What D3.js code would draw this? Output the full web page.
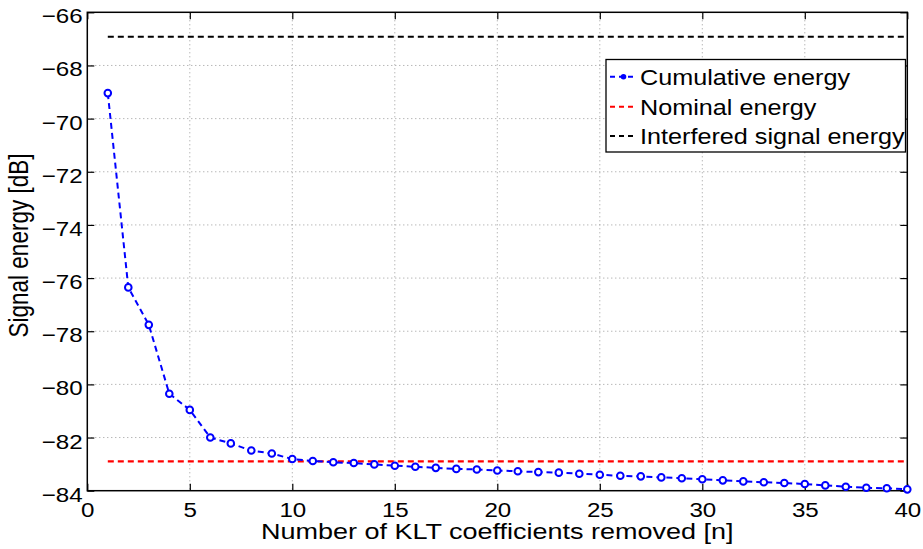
<!DOCTYPE html>
<html><head><meta charset="utf-8">
<script src="https://cdn.jsdelivr.net/npm/d3@7"></script>
<style>body{margin:0;background:#fff}svg{display:block}text{font-family:"Liberation Sans",Arial,sans-serif;fill:#000}</style>
</head><body><svg id="c" width="923" height="549"></svg>
<script>
const coeffs = d3.range(1, 41);
const cumulativeEnergy = [-69.04,-76.35,-77.76,-80.35,-80.96,-82.00,-82.22,-82.49,-82.60,-82.81,
  -82.88,-82.93,-82.96,-83.01,-83.06,-83.10,-83.14,-83.18,-83.20,-83.24,
  -83.27,-83.30,-83.32,-83.36,-83.40,-83.44,-83.46,-83.50,-83.53,-83.57,
  -83.61,-83.65,-83.68,-83.71,-83.75,-83.80,-83.85,-83.89,-83.91,-83.95];
const nominalEnergy = -82.9;
const interferedEnergy = -66.92;
const xTicks = [0,5,10,15,20,25,30,35,40];
const yTicks = [-84,-82,-80,-78,-76,-74,-72,-70,-68,-66];
const legendLabels = ["Cumulative energy","Nominal energy","Interfered signal energy"];

const svg = d3.select("#c");
const L=87.3, R=907.3, T=12.3, B=490.7;
const x = d3.scaleLinear().domain([0,40]).range([L,R]);
const y = d3.scaleLinear().domain([-84,-66]).range([B,T]);
const fmt = d => d<0 ? "\u2212"+Math.abs(d) : String(d);
const SX = 1.15;

// grid
const g = svg.append("g");
g.selectAll(".gx").data(xTicks.slice(1,-1)).enter().append("line")
  .attr("x1",d=>x(d)).attr("x2",d=>x(d)).attr("y1",T).attr("y2",B)
  .attr("stroke","#999").attr("stroke-width",1).attr("stroke-dasharray","1,3");
g.selectAll(".gy").data(yTicks.slice(1,-1)).enter().append("line")
  .attr("y1",d=>y(d)).attr("y2",d=>y(d)).attr("x1",L).attr("x2",R)
  .attr("stroke","#999").attr("stroke-width",1).attr("stroke-dasharray","1,3");

// axes via d3 axis (inward ticks)
const fs = 21;
const ax = svg.append("g").attr("transform",`translate(0,${B})`)
  .call(d3.axisBottom(x).tickValues(xTicks).tickSizeInner(-7).tickSizeOuter(0).tickFormat(fmt).tickPadding(11));
const ay = svg.append("g").attr("transform",`translate(${L},0)`)
  .call(d3.axisLeft(y).tickValues(yTicks).tickSizeInner(-7).tickSizeOuter(0).tickFormat(fmt).tickPadding(4.6));
svg.append("g").attr("transform",`translate(0,${T})`)
  .call(d3.axisTop(x).tickValues(xTicks).tickSizeInner(-7).tickSizeOuter(0).tickFormat(""));
svg.append("g").attr("transform",`translate(${R},0)`)
  .call(d3.axisRight(y).tickValues(yTicks).tickSizeInner(-7).tickSizeOuter(0).tickFormat(""));
svg.selectAll(".domain").remove();
svg.selectAll(".tick line").attr("stroke","#000").attr("stroke-width",1.2);
svg.selectAll(".tick text").attr("font-size",fs).attr("font-family","Liberation Sans, Arial, sans-serif").attr("fill","#000")
  .attr("transform",`scale(${SX},1)`);
ay.selectAll(".tick text").attr("dy","0.5em").attr("x",-4.6/SX);
svg.append("rect").attr("x",L).attr("y",T).attr("width",R-L).attr("height",B-T)
  .attr("fill","none").attr("stroke","#000").attr("stroke-width",1.5);

// reference lines
svg.append("line").attr("x1",x(1)).attr("x2",x(40)).attr("y1",y(interferedEnergy)).attr("y2",y(interferedEnergy))
  .attr("stroke","#000").attr("stroke-width",2).attr("stroke-dasharray","6,4");
svg.append("line").attr("x1",x(1)).attr("x2",x(40)).attr("y1",y(nominalEnergy)).attr("y2",y(nominalEnergy))
  .attr("stroke","#ff0000").attr("stroke-width",2.2).attr("stroke-dasharray","6,4");

// cumulative
const line = d3.line().x((d,i)=>x(coeffs[i])).y(d=>y(d));
svg.append("path").datum(cumulativeEnergy).attr("d",line).attr("fill","none")
  .attr("stroke","#0000ff").attr("stroke-width",2).attr("stroke-dasharray","6,4");
svg.selectAll(".pt").data(cumulativeEnergy).enter().append("circle")
  .attr("cx",(d,i)=>x(coeffs[i])).attr("cy",d=>y(d)).attr("r",3.3)
  .attr("fill","#fff").attr("stroke","#0000ff").attr("stroke-width",2);

// legend
const lg = svg.append("g");
lg.append("rect").attr("x",606).attr("y",59.5).attr("width",299.5).attr("height",92.5)
  .attr("fill","#fff").attr("stroke","#000").attr("stroke-width",1.3);
const rowsY=[76.7,106.7,136];
const cols=["#0000ff","#ff0000","#000"];
legendLabels.forEach((t,i)=>{
  lg.append("line").attr("x1",610).attr("x2",637).attr("y1",rowsY[i]).attr("y2",rowsY[i])
    .attr("stroke",cols[i]).attr("stroke-width",2).attr("stroke-dasharray","5,4");
  if(i===0) lg.append("circle").attr("cx",623.5).attr("cy",rowsY[i]).attr("r",2.8).attr("fill","#0000ff");
  lg.append("text").attr("transform",`translate(640,${rowsY[i]}) scale(1.12,1)`).attr("dy","0.36em")
    .attr("font-size",22.5).text(t);
});

// axis labels
svg.append("text").attr("transform",`translate(${(L+R)/2},539) scale(1.2,1)`).attr("text-anchor","middle").attr("font-size",22.5)
  .text("Number of KLT coefficients removed [n]");
svg.append("text").attr("transform",`translate(28,${(T+B)/2 - 6}) scale(1.2,1) rotate(-90)`).attr("text-anchor","middle")
  .attr("font-size",22.5).text("Signal energy [dB]");
</script></body></html>
